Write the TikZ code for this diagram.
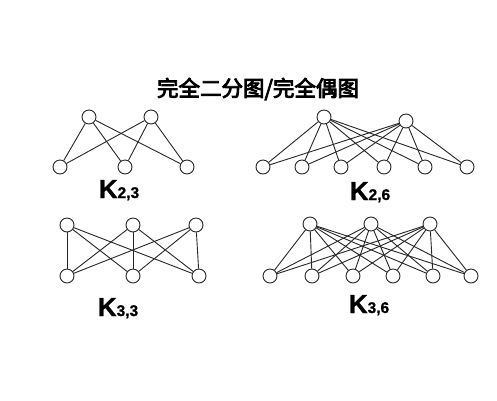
\documentclass[tikz,border=0pt]{standalone}
\usepackage{fontspec}
\usepackage{tikz}
\usetikzlibrary{calc}
\newfontfamily\cjk{Noto Sans CJK SC}[FakeBold=4]
\newfontfamily\labelfont{Liberation Sans}[FakeBold=1]
\newcommand{\kname}[2]{{\labelfont\bfseries\fontsize{26}{26}\selectfont K{\fontsize{15.5}{15.5}\selectfont #1,#2}}}

\begin{document}
\begin{tikzpicture}[x=1pt, y=-1pt,
	vertex/.style={circle, draw=black!85, line width=0.9pt, fill=white, minimum size=14pt, inner sep=0pt},
	edge/.style={draw=black!85, line width=0.9pt},
	graphname/.style={anchor=base, inner sep=0pt}]

	\useasboundingbox (0,0) rectangle (497,400);

	\node[font=\cjk\fontsize{21.5}{21.5}\selectfont] (title) at (258,89) {完全二分图/完全偶图};

	% K_{2,3}
	\node[vertex] (a1) at (89,117) {};
	\node[vertex] (a2) at (151,117) {};
	\node[vertex] (b1) at (60,167) {};
	\node[vertex] (b2) at (125,167) {};
	\node[vertex] (b3) at (187,167) {};
	\foreach \i in {1,2}
		\foreach \j in {1,2,3}
			\draw[edge] (a\i) -- (b\j);
	\node[graphname] (k23) at (119,198) {\kname{2}{3}};

	% K_{2,6}
	\node[vertex] (c1) at (324,117) {};
	\node[vertex] (c2) at (406,121) {};
	\foreach \x [count=\j] in {263,302,341,384,425,467}
		\node[vertex] (d\j) at (\x,167) {};
	\foreach \i in {1,2}
		\foreach \j in {1,...,6}
			\draw[edge] (c\i) -- (d\j);
	\node[graphname] (k26) at (370,200) {\kname{2}{6}};

	% K_{3,3}
	\node[vertex] (e1) at (67,225) {};
	\node[vertex] (e2) at (133,225) {};
	\node[vertex] (e3) at (196,225) {};
	\node[vertex] (f1) at (67,276) {};
	\node[vertex] (f2) at (133,276) {};
	\node[vertex] (f3) at (199,276) {};
	\foreach \i in {1,2,3}
		\foreach \j in {1,2,3}
			\draw[edge] (e\i) -- (f\j);
	\node[graphname] (k33) at (118,316) {\kname{3}{3}};

	% K_{3,6}
	\node[vertex] (g1) at (310,224) {};
	\node[vertex] (g2) at (371,224) {};
	\node[vertex] (g3) at (430,224) {};
	\foreach \x [count=\j] in {270,312,353,393,433,471}
		\node[vertex] (h\j) at (\x,276) {};
	\foreach \i in {1,2,3}
		\foreach \j in {1,...,6}
			\draw[edge] (g\i) -- (h\j);
	\node[graphname] (k36) at (369,313) {\kname{3}{6}};

\end{tikzpicture}
\end{document}
